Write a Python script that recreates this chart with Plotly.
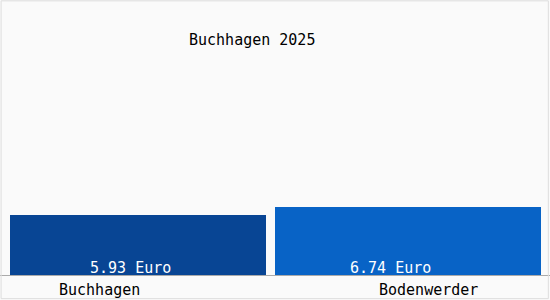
import plotly.graph_objects as go

categories = ["Buchhagen", "Bodenwerder"]
values = [5.93, 6.74]
value_labels = ["5.93 Euro", "6.74 Euro"]
title_text = "Buchhagen 2025"

colors = ["#084594", "#0863c6"]
FONT = "DejaVu Sans Mono"

xs = list(range(len(categories)))
fig = go.Figure()
fig.add_trace(go.Bar(
    x=xs, y=values, width=[0.948, 0.985],
    marker=dict(color=colors, line=dict(width=0)),
    hoverinfo="skip", showlegend=False,
))

label_xshift = [-8, -18]
for i, (v, t) in enumerate(zip(values, value_labels)):
    fig.add_annotation(x=xs[i], y=0, xref="x", yref="y", text=t, showarrow=False,
                       yanchor="bottom", yshift=-4, xshift=label_xshift[i],
                       font=dict(family=FONT, size=15, color="white"))

cat_xshift = [-39, 20]
for i, c in enumerate(categories):
    fig.add_annotation(x=xs[i], y=0, xref="x", yref="y", text=c, showarrow=False,
                       yanchor="top", yshift=-4, xshift=cat_xshift[i],
                       font=dict(family=FONT, size=15, color="black"))

fig.add_annotation(x=252/550, y=1 - 40/275, xref="paper", yref="paper", text=title_text,
                   showarrow=False, xanchor="center", yanchor="middle",
                   font=dict(family=FONT, size=15, color="black"))

fig.add_shape(type="rect", xref="paper", yref="paper", x0=0.002, y0=-25/275 + 0.005, x1=0.997, y1=0.997,
              line=dict(color="#dddddd", width=1), layer="above")

fig.update_layout(
    width=550, height=300,
    margin=dict(l=0, r=0, t=0, b=25),
    paper_bgcolor="#fafafa", plot_bgcolor="#fafafa",
    xaxis=dict(range=[-138/270, 412/270], showticklabels=False, showgrid=False,
               zeroline=False, showline=False, fixedrange=True),
    yaxis=dict(range=[0, 275/10.1], showticklabels=False, showgrid=False,
               zeroline=True, zerolinecolor="#aaaaaa", zerolinewidth=1, showline=False),
    bargap=0,
)
fig.write_html("out.html")
